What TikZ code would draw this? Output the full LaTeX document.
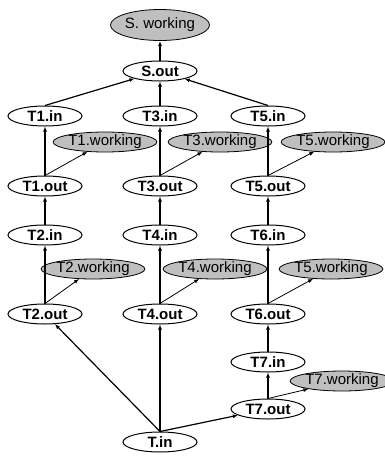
\documentclass[tikz,border=0pt]{standalone}
\usepackage{fontspec}
\setmainfont{Liberation Sans}
\usetikzlibrary{shapes.geometric,arrows.meta}
\begin{document}
\begin{tikzpicture}[x=1pt, y=-1pt,
  port/.style={ellipse, draw, line width=1pt, fill=white, inner sep=0pt, minimum width=74pt, minimum height=20pt, font=\fontsize{15}{17}\selectfont\bfseries},
  work/.style={ellipse, draw, line width=0.8pt, fill=black!25, inner sep=0pt, minimum width=84pt, minimum height=20pt, font=\fontsize{15}{17}\selectfont},
  flow/.style={line width=1.2pt, -{Latex[length=5pt,width=4pt]}},
  wflow/.style={line width=0.8pt, -{Latex[length=5pt,width=4pt]}}]
\useasboundingbox (0,0) rectangle (385,456);
\node[work, minimum width=98pt, minimum height=31pt] (swork) at (160,25){S. working};
\node[port] (sout) at (160,71){S.out};
\draw[flow](sout) -- (swork);
\node[port] (t1in) at (45,116){T1.in};
\node[port] (t3in) at (160,116){T3.in};
\node[port] (t5in) at (268,116){T5.in};
\draw[flow](t1in.north) -- (sout);
\draw[flow](t3in) -- (sout);
\draw[flow](t5in.north) -- (sout);
\node[work] (t1work) at (105,142){T1.working};
\node[work] (t3work) at (220,142){T3.working};
\node[work, minimum width=92pt] (t5work) at (333,142){T5.working};
\node[port] (t1out) at (45,186){T1.out};
\node[port] (t3out) at (160,186){T3.out};
\node[port] (t5out) at (268,186){T5.out};
\draw[flow](t1out) -- (t1in);
\draw[flow](t3out) -- (t3in);
\draw[flow](t5out) -- (t5in);
\draw[wflow](t1out.north) -- (t1work);
\draw[wflow](t3out.north) -- (t3work);
\draw[wflow](t5out.north) -- (t5work);
\node[port] (t2in) at (45,235){T2.in};
\node[port] (t4in) at (160,235){T4.in};
\node[port] (t6in) at (268,235){T6.in};
\draw[flow](t2in) -- (t1out);
\draw[flow](t4in) -- (t3out);
\draw[flow](t6in) -- (t5out);
\node[work, minimum width=87pt] (t2work) at (93,269){T2.working};
\node[work, minimum width=86pt] (t4work) at (215,269){T4.working};
\node[work, minimum width=98pt] (t6work) at (331,269){T5.working};
\node[port] (t2out) at (45,314){T2.out};
\node[port] (t4out) at (160,314){T4.out};
\node[port] (t6out) at (268,314){T6.out};
\draw[flow](t2out) -- (t2in);
\draw[flow](t4out) -- (t4in);
\draw[flow](t6out) -- (t6in);
\draw[wflow](t2out.north) -- (t2work);
\draw[wflow](t4out.north) -- (t4work);
\draw[wflow](t6out.north) -- (t6work);
\node[port] (t7in) at (268,362){T7.in};
\draw[flow](t7in) -- (t6out);
\node[work, minimum width=85pt] (t7work) at (342,381){T7.working};
\node[port] (t7out) at (268,409){T7.out};
\draw[flow](t7out) -- (t7in);
\draw[wflow](t7out.north) -- (t7work);
\node[port] (tin) at (160,442){T.in};
\draw[flow](tin.north) -- (t2out);
\draw[flow](tin.north) -- (t4out);
\draw[flow](tin.north) -- (t7out);
\end{tikzpicture}
\end{document}
